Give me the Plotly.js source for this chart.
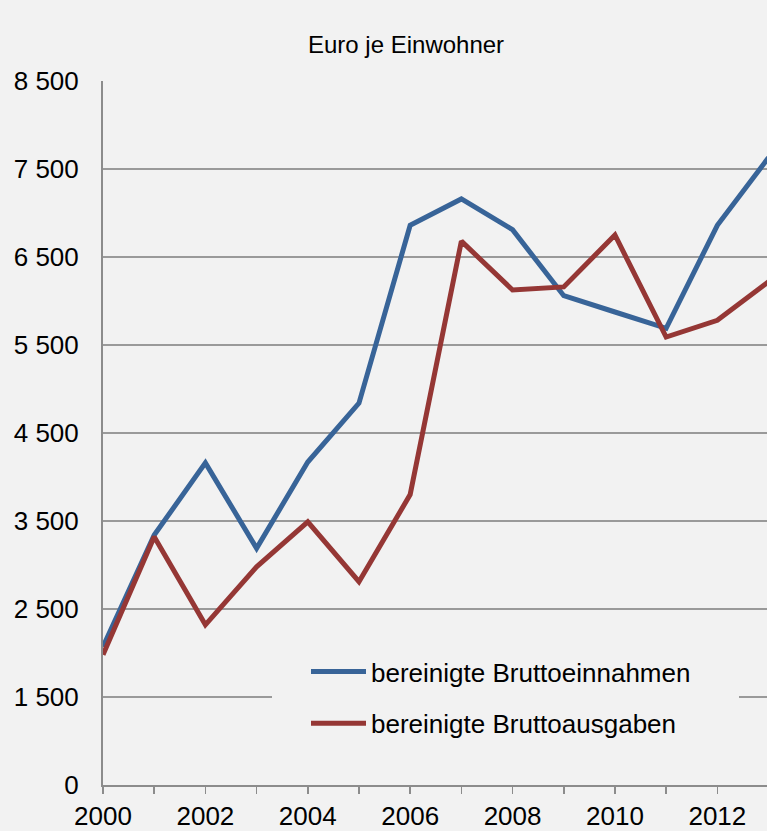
<!DOCTYPE html>
<html>
<head>
<meta charset="utf-8">
<script src="https://cdn.plot.ly/plotly-3.0.1.min.js"></script>
<style>
html,body{margin:0;padding:0;background:#f2f2f2;}
#chart{width:767px;height:831px;}
</style>
</head>
<body>
<div id="chart"></div>
<script>
const years = [2000,2001,2002,2003,2004,2005,2006,2007,2008,2009,2010,2011,2012,2013];
const einnahmen = [2070,3340,4160,3190,4170,4840,6860,7160,6810,6060,5875,5690,6860,7630];
const ausgaben  = [1980,3320,2320,2980,3490,2810,3800,6680,6125,6160,6750,5590,5780,6220];
const seriesNames = ['bereinigte Bruttoeinnahmen','bereinigte Bruttoausgaben'];
const yTickVals = [500,1500,2500,3500,4500,5500,6500,7500,8500];
const yTickText = ['0','1 500','2 500','3 500','4 500','5 500','6 500','7 500','8 500'];
const xTickVals = years;
const xTickText = years.map(y => (y % 2 === 0 && y < 2013) ? String(y) : '');

const font = 'Liberation Sans, Arial, sans-serif';
const W = 664, H = 704, L = 103, T = 81;
const px = v => (v - L) / W;
const py = v => (T + H - v) / H;

const traces = [
  {x: years, y: einnahmen, name: seriesNames[0], mode: 'lines', legendgroup: 'a',
   line: {color: '#386498', width: 5}},
  {x: years, y: ausgaben, name: seriesNames[1], mode: 'lines', legendgroup: 'b',
   line: {color: '#953735', width: 5}}
];

const layout = {
  width: 767, height: 831,
  paper_bgcolor: '#f2f2f2', plot_bgcolor: '#f2f2f2',
  margin: {l: L, r: 0, t: T, b: 46},
  font: {family: font, size: 26, color: '#000'},
  showlegend: true,
  legend: {x: px(306), y: py(648), xanchor: 'left', yanchor: 'top',
           bgcolor: 'rgba(0,0,0,0)', font: {family: font, size: 26, color: '#000'},
           itemwidth: 55, tracegroupgap: 15},
  shapes: [{type: 'rect', xref: 'paper', yref: 'paper', layer: 'above',
            x0: px(272), x1: px(739), y0: py(760), y1: py(645),
            fillcolor: '#f2f2f2', line: {width: 0}}],
  annotations: [{text: 'Euro je Einwohner', xref: 'paper', yref: 'paper',
     x: px(406), y: 1, yshift: 37, xanchor: 'center', yanchor: 'middle',
     showarrow: false, font: {family: font, size: 24, color: '#000'}}],
  xaxis: {range: [2000, 2012.97], tickvals: xTickVals, ticktext: xTickText,
          ticks: 'outside', ticklen: 7, tickcolor: '#8c8c8c', tickwidth: 1.5,
          showline: true, linecolor: '#8c8c8c', linewidth: 2, showgrid: false,
          zeroline: false, tickfont: {family: font, size: 26, color: '#000'}},
  yaxis: {range: [500, 8500], tickvals: yTickVals, ticktext: yTickText,
          ticks: 'outside', ticklen: 17, tickcolor: 'rgba(0,0,0,0)',
          showline: true, linecolor: '#8c8c8c', linewidth: 2,
          showgrid: true, gridcolor: '#9a9a9a', gridwidth: 2, zeroline: false,
          tickfont: {family: font, size: 26, color: '#000'}}
};

Plotly.newPlot('chart', traces, layout, {displayModeBar: false, staticPlot: true});
</script>
</body>
</html>
